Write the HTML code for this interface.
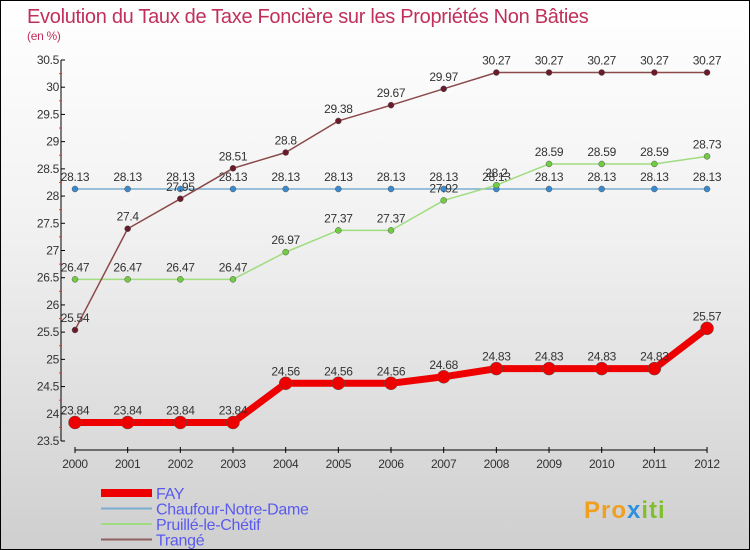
<!DOCTYPE html>
<html><head><meta charset="utf-8"><style>
body{margin:0}
#c{width:748px;height:548px;border:1px solid #000;background:linear-gradient(#fff,#f2f2f2 40%,#cfcfcf);position:relative;font-family:"Liberation Sans",sans-serif;overflow:hidden}
</style></head><body>
<div id="c">
<svg width="748" height="548" id="svg"></svg>
</div>
<script>
const years=[2000,2001,2002,2003,2004,2005,2006,2007,2008,2009,2010,2011,2012];
const fay=[23.84,23.84,23.84,23.84,24.56,24.56,24.56,24.68,24.83,24.83,24.83,24.83,25.57];
const chaufour=[28.13,28.13,28.13,28.13,28.13,28.13,28.13,28.13,28.13,28.13,28.13,28.13,28.13];
const pruille=[26.47,26.47,26.47,26.47,26.97,27.37,27.37,27.92,28.2,28.59,28.59,28.59,28.73];
const trange=[25.54,27.4,27.95,28.51,28.8,29.38,29.67,29.97,30.27,30.27,30.27,30.27,30.27];
const yTicks=[23.5,24,24.5,25,25.5,26,26.5,27,27.5,28,28.5,29,29.5,30,30.5];
const ns="http://www.w3.org/2000/svg",svg=document.getElementById('svg');
const X=i=>74+i*52.67, Y=v=>440-(v-23.5)*54.43;
function el(t,a,p){const e=document.createElementNS(ns,t);for(const k in a)e.setAttribute(k,a[k]);(p||svg).appendChild(e);return e;}
function txt(x,y,s,a,fill,size,anchor){const e=el('text',{x:x,y:y,fill:fill||'#333','font-size':size||11,'text-anchor':anchor||'middle','letter-spacing':'-0.3'});e.textContent=s;return e;}
let t=txt(26,22,'Evolution du Taux de Taxe Foncière sur les Propriétés Non Bâties',0,'#c0305a',20,'start');

t=txt(26,39,'(en %)',0,'#c0305a',12,'start');

let a=el('line',{x1:60,y1:Y(30.5),x2:60,y2:Y(23.5),stroke:'#000'});

yTicks.forEach((v,i)=>{el('line',{x1:60,x2:64,y1:Y(v),y2:Y(v),stroke:'#000'});
 if(i<yTicks.length-1)el('line',{x1:58,x2:61,y1:Y(v+0.25),y2:Y(v+0.25),stroke:'#e33'});
 const l=txt(58,Y(v)+4,String(v),0,'#333',12,'end');});
a=el('line',{x1:X(0),y1:449,x2:X(12),y2:449,stroke:'#000'});

years.forEach((y,i)=>{el('line',{x1:X(i),x2:X(i),y1:446,y2:452,stroke:'#000'});
 const l=txt(X(i),467,String(y),0,'#333',12);});
function series(d,color,dot,w,r,name){
 const g=el('g',{});
 el('polyline',{points:d.map((v,i)=>X(i)+','+Y(v)).join(' '),fill:'none',stroke:color,'stroke-width':w,'stroke-linejoin':'round'},g);
 d.forEach((v,i)=>{const c=el('circle',{cx:X(i),cy:Y(v),r:r,fill:dot,stroke:'#555','stroke-width':0.5},g);
  
  const l=txt(X(i),Y(v)-8,String(v),0,'#333',12);g.appendChild(l);});
}
series(chaufour,'#7aaed0','#3a8ad0',1.5,3,'series-chaufour');
series(pruille,'#a0dc80','#70cc40',1.5,3,'series-pruille');
series(trange,'#8b4a4a','#6a1a2a',1.5,3,'series-trange');
series(fay,'#ee0000','#ee0000',7,6.5,'series-fay');
const leg=[['FAY','#ee0000',8],['Chaufour-Notre-Dame','#7aaed0',2],['Pruillé-le-Chétif','#a0dc80',2],['Trangé','#906060',2]];
leg.forEach((l,i)=>{const y=492+i*15.5;const g=el('g',{});
 el('line',{x1:100,x2:151,y1:y,y2:y,stroke:l[1],'stroke-width':l[2]},g);
 const tt=txt(155,y+6,l[0],0,'#5a5aee',16,'start');g.appendChild(tt);});
const p=el('text',{x:583,y:517,'font-size':24,'font-weight':'bold','letter-spacing':'1'});

[['Pro','#f0a020'],['x','#3090e0'],['iti','#80c030']].forEach(s=>{const ts=el('tspan',{fill:s[1]},p);ts.textContent=s[0];});
</script>
</body></html>
